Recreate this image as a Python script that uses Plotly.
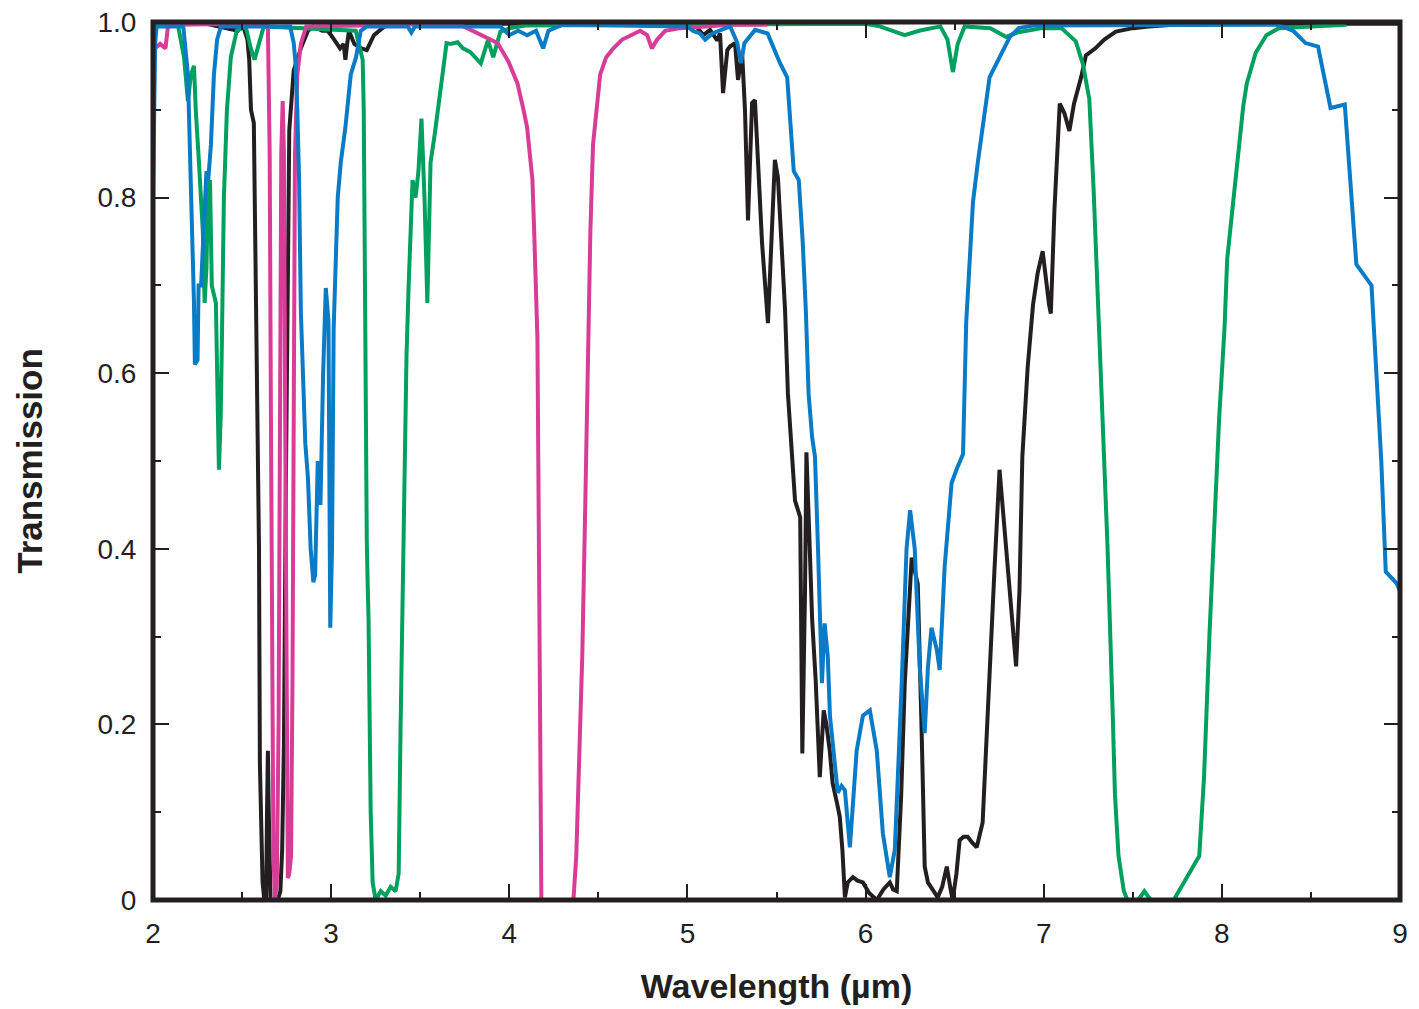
import plotly.graph_objects as go

# ---------------- data (wavelength in µm, transmission 0..1) ----------------
black_x = [2.00, 2.30, 2.476, 2.49, 2.51, 2.53, 2.54, 2.55, 2.566, 2.577, 2.585, 2.595, 2.60, 2.605,
           2.615, 2.625, 2.635, 2.64, 2.645, 2.65, 2.66, 2.70, 2.715, 2.725, 2.735, 2.745, 2.755,
           2.765, 2.79, 2.83, 2.87, 2.90, 2.95, 2.98, 3.00, 3.03, 3.05, 3.07, 3.08, 3.09, 3.10,
           3.13, 3.17, 3.20, 3.24, 3.27, 3.30, 3.40, 4.00, 5.00, 5.05, 5.09, 5.127, 5.144, 5.167,
           5.183, 5.20, 5.224, 5.239, 5.267, 5.284, 5.307, 5.323, 5.34, 5.363, 5.379, 5.396,
           5.419, 5.452, 5.491, 5.508, 5.531, 5.548, 5.564, 5.587, 5.604, 5.633, 5.645, 5.66,
           5.668, 5.685, 5.70, 5.72, 5.743, 5.765, 5.78, 5.799, 5.815, 5.84, 5.855, 5.87, 5.884,
           5.90, 5.929, 5.955, 5.985, 6.02, 6.063, 6.10, 6.136, 6.155, 6.175, 6.20, 6.22, 6.259,
           6.293, 6.315, 6.332, 6.35, 6.377, 6.405, 6.43, 6.456, 6.475, 6.489, 6.51, 6.528, 6.55,
           6.573, 6.60, 6.624, 6.657, 6.685, 6.724, 6.752, 6.78, 6.817, 6.845, 6.864, 6.88, 6.91,
           6.94, 6.966, 6.994, 7.03, 7.04, 7.06, 7.078, 7.09, 7.116, 7.144, 7.17, 7.21, 7.237,
           7.29, 7.34, 7.405, 7.50, 7.59, 7.80, 9.00]
black_y = [0.998, 0.998, 0.99, 0.995, 0.993, 0.98, 0.957, 0.90, 0.885, 0.67, 0.57, 0.40, 0.155, 0.10,
           0.02, 0.0, 0.0, 0.10, 0.17, 0.10, 0.0, 0.0, 0.01, 0.057, 0.18, 0.455, 0.68,
           0.877, 0.945, 0.97, 0.99, 0.995, 0.99, 0.99, 0.985, 0.975, 0.97, 0.975, 0.957, 0.975, 0.99,
           0.975, 0.97, 0.968, 0.985, 0.99, 0.995, 0.998, 0.998, 0.998, 0.995, 0.985, 0.991, 0.985, 0.979,
           0.987, 0.919, 0.968, 0.972, 0.976, 0.934, 0.965, 0.90, 0.774, 0.908, 0.911, 0.843,
           0.748, 0.657, 0.843, 0.823, 0.729, 0.672, 0.577, 0.505, 0.455, 0.436, 0.167, 0.35,
           0.51, 0.41, 0.32, 0.25, 0.14, 0.216, 0.20, 0.17, 0.133, 0.11, 0.095, 0.057, 0.003,
           0.02, 0.026, 0.022, 0.02, 0.008, 0.0, 0.012, 0.02, 0.012, 0.01, 0.12, 0.247, 0.39,
           0.36, 0.19, 0.038, 0.02, 0.011, 0.003, 0.015, 0.038, 0.015, 0.0, 0.03, 0.068, 0.072,
           0.072, 0.065, 0.06, 0.088, 0.22, 0.378, 0.49, 0.424, 0.327, 0.266, 0.353, 0.505, 0.607,
           0.678, 0.714, 0.739, 0.678, 0.668, 0.785, 0.861, 0.907, 0.896, 0.876, 0.907, 0.937, 0.962,
           0.97, 0.98, 0.989, 0.993, 0.995, 0.998, 0.998]

blue_x = [2.00, 2.005, 2.012, 2.02, 2.17, 2.196, 2.213, 2.224, 2.23, 2.235, 2.25, 2.256, 2.27, 2.286,
          2.30, 2.31, 2.325, 2.342, 2.36, 2.381, 2.77, 2.79, 2.80, 2.81, 2.82, 2.83, 2.835, 2.845,
          2.855, 2.87, 2.885, 2.90, 2.91, 2.925, 2.94, 2.955, 2.97, 2.985, 2.995, 3.005, 3.014,
          3.037, 3.054, 3.08, 3.11, 3.14, 3.166, 3.20, 3.43, 3.45, 3.47, 3.95, 4.00, 4.05, 4.10,
          4.15, 4.19, 4.22, 4.30, 5.00, 5.03, 5.07, 5.10, 5.14, 5.24, 5.28, 5.30, 5.32, 5.38,
          5.45, 5.49, 5.52, 5.56, 5.58, 5.597, 5.625, 5.647, 5.665, 5.68, 5.70, 5.716, 5.733,
          5.755, 5.77, 5.788, 5.80, 5.827, 5.844, 5.865, 5.884, 5.912, 5.95, 5.985, 6.024, 6.063,
          6.097, 6.136, 6.164, 6.203, 6.23, 6.25, 6.276, 6.304, 6.332, 6.35, 6.37, 6.40, 6.416,
          6.444, 6.46, 6.483, 6.51, 6.547, 6.565, 6.584, 6.603, 6.63, 6.66, 6.696, 6.733, 6.77,
          6.81, 6.86, 6.94, 8.30, 8.34, 8.40, 8.47, 8.54, 8.61, 8.69, 8.755, 8.84, 8.895, 8.92,
          8.98, 9.00]
blue_y = [0.80, 0.92, 0.975, 0.995, 0.995, 0.94, 0.82, 0.75, 0.68, 0.61, 0.615, 0.70, 0.70, 0.77,
          0.83, 0.82, 0.86, 0.94, 0.98, 0.995, 0.995, 0.976, 0.953, 0.90, 0.82, 0.67, 0.64, 0.58,
          0.52, 0.48, 0.40, 0.362, 0.37, 0.50, 0.45, 0.60, 0.697, 0.66, 0.31, 0.40, 0.65,
          0.80, 0.84, 0.88, 0.94, 0.96, 0.99, 0.995, 0.995, 0.988, 0.995, 0.995, 0.985, 0.99, 0.985,
          0.99, 0.97, 0.99, 0.997, 0.995, 0.99, 0.987, 0.98, 0.987, 0.995, 0.976, 0.953, 0.976, 0.991,
          0.987, 0.968, 0.953, 0.937, 0.88, 0.83, 0.82, 0.75, 0.67, 0.577, 0.527, 0.505, 0.40,
          0.247, 0.315, 0.277, 0.21, 0.152, 0.122, 0.13, 0.125, 0.06, 0.17, 0.21, 0.216, 0.17,
          0.076, 0.026, 0.057, 0.247, 0.40, 0.444, 0.40, 0.265, 0.19, 0.265, 0.31, 0.285, 0.262,
          0.38, 0.418, 0.475, 0.49, 0.508, 0.658, 0.729, 0.795, 0.84, 0.886, 0.937, 0.952, 0.968,
          0.983, 0.993, 0.996, 0.997, 0.995, 0.99, 0.976, 0.972, 0.902, 0.906, 0.724, 0.70, 0.50, 0.374,
          0.361, 0.352]

green_x = [2.00, 2.14, 2.146, 2.174, 2.196, 2.213, 2.23, 2.24, 2.258, 2.269, 2.28, 2.29, 2.30, 2.308,
           2.32, 2.33, 2.353, 2.37, 2.38, 2.387, 2.398, 2.415, 2.437, 2.47, 2.52, 2.549, 2.57,
           2.594, 2.622, 3.138, 3.177, 3.183, 3.188, 3.194, 3.20, 3.205, 3.21, 3.222, 3.233, 3.25,
           3.278, 3.306, 3.334, 3.362, 3.379, 3.39, 3.407, 3.423, 3.435, 3.446, 3.457, 3.474, 3.49,
           3.507, 3.524, 3.54, 3.558, 3.58, 3.603, 3.625, 3.648, 3.67, 3.71, 3.74, 3.78, 3.84,
           3.88, 3.91, 3.95, 4.006, 4.09, 6.00, 6.08, 6.22, 6.30, 6.42, 6.46, 6.49, 6.517, 6.556,
           6.70, 6.79, 6.85, 6.99, 7.10, 7.18, 7.22, 7.256, 7.28, 7.30, 7.32, 7.34, 7.358, 7.386,
           7.40, 7.42, 7.45, 7.47, 7.53, 7.565, 7.60, 7.73, 7.79, 7.83, 7.873, 7.90, 7.93, 7.96,
           7.985, 8.00, 8.015, 8.03, 8.06, 8.09, 8.12, 8.14, 8.19, 8.25, 8.32, 8.50, 8.70]
green_y = [0.998, 0.997, 0.99, 0.96, 0.91, 0.94, 0.95, 0.90, 0.84, 0.80, 0.76, 0.68, 0.72, 0.80,
           0.82, 0.70, 0.68, 0.49, 0.55, 0.64, 0.80, 0.90, 0.96, 0.99, 0.995, 0.97, 0.957,
           0.975, 0.995, 0.99, 0.957, 0.90, 0.70, 0.60, 0.41, 0.36, 0.32, 0.10, 0.02, 0.0,
           0.01, 0.005, 0.015, 0.01, 0.03, 0.20, 0.45, 0.62, 0.70, 0.76, 0.82, 0.80, 0.83,
           0.89, 0.80, 0.68, 0.84, 0.87, 0.91, 0.94, 0.976, 0.975, 0.977, 0.97, 0.966, 0.953,
           0.979, 0.96, 0.989, 0.993, 0.996, 0.998, 0.995, 0.985, 0.99, 0.995, 0.98, 0.943, 0.975, 0.995,
           0.993, 0.983, 0.988, 0.993, 0.993, 0.978, 0.952, 0.912, 0.81, 0.708, 0.607, 0.506, 0.403, 0.221,
           0.12, 0.05, 0.01, 0.0, 0.0, 0.01, 0.0, 0.0, 0.02, 0.035, 0.05, 0.14, 0.30, 0.45,
           0.55, 0.60, 0.652, 0.73, 0.79, 0.85, 0.904, 0.93, 0.965, 0.985, 0.993, 0.995, 0.997]

magenta_x = [2.00, 2.01, 2.04, 2.07, 2.085, 2.63, 2.645, 2.655, 2.662, 2.668, 2.676, 2.685, 2.695,
             2.705, 2.712, 2.72, 2.728, 2.735, 2.742, 2.75, 2.757, 2.765, 2.775, 2.783, 2.79,
             2.797, 2.81, 2.83, 2.86, 3.70, 3.743, 3.838, 3.934, 3.995, 4.046, 4.08, 4.10, 4.12,
             4.13, 4.14, 4.147, 4.158, 4.163, 4.17, 4.175, 4.18, 4.36, 4.376, 4.393, 4.41, 4.427,
             4.443, 4.455, 4.47, 4.494, 4.51, 4.544, 4.584, 4.634, 4.68, 4.735, 4.774, 4.80, 4.83,
             4.875, 4.96, 5.07, 5.24, 5.447]
magenta_y = [0.995, 0.97, 0.975, 0.97, 0.997, 0.998, 0.995, 0.85, 0.55, 0.25, 0.05, 0.0, 0.02,
             0.20, 0.55, 0.85, 0.91, 0.85, 0.55, 0.20, 0.025, 0.03, 0.05, 0.25, 0.60,
             0.85, 0.94, 0.975, 0.995, 0.998, 0.995, 0.985, 0.976, 0.955, 0.93, 0.90, 0.88, 0.84,
             0.82, 0.76, 0.71, 0.64, 0.50, 0.35, 0.15, 0.0, 0.0, 0.05, 0.15, 0.28, 0.455,
             0.64, 0.76, 0.86, 0.91, 0.94, 0.96, 0.97, 0.98, 0.985, 0.99, 0.985, 0.97, 0.98,
             0.99, 0.993, 0.995, 0.997, 0.997]

x_ticks = [2, 3, 4, 5, 6, 7, 8, 9]
y_ticks = [0, 0.2, 0.4, 0.6, 0.8, 1.0]
y_ticktext = ["0", "0.2", "0.4", "0.6", "0.8", "1.0"]

INK = "#231f20"
series = [
    (black_x, black_y, INK),
    (green_x, green_y, "#00a05e"),
    (magenta_x, magenta_y, "#d93c96"),
    (blue_x, blue_y, "#0a7bc6"),
]

fig = go.Figure()
for xs, ys, col in series:
    fig.add_trace(go.Scatter(x=xs, y=ys, mode="lines",
                             line=dict(color=col, width=4),
                             showlegend=False, hoverinfo="skip"))

FONT = "Liberation Sans, Arial, Helvetica, sans-serif"
axis_common = dict(
    showgrid=False, zeroline=False,
    showline=True, linewidth=1, linecolor=INK, mirror="allticks",
    ticks="inside", ticklen=16, tickwidth=1.5, tickcolor=INK,
    tickfont=dict(family=FONT, size=28, color=INK),
    ticklabeloverflow="allow",
)
fig.update_xaxes(range=[2, 9], tickmode="array", tickvals=x_ticks,
                 minor=dict(tick0=2, dtick=0.5, ticks="inside", ticklen=8, tickwidth=1.5, tickcolor=INK),
                 title=dict(text="Wavelength (µm)", standoff=26,
                            font=dict(family=FONT, size=34, color=INK, weight="bold")),
                 ticklabelstandoff=8,
                 **axis_common)
fig.update_yaxes(range=[0, 1], tickmode="array", tickvals=y_ticks, ticktext=y_ticktext,
                 minor=dict(tick0=0, dtick=0.1, ticks="inside", ticklen=8, tickwidth=1.5, tickcolor=INK),
                 title=dict(text="Transmission", standoff=44,
                            font=dict(family=FONT, size=35, color=INK, weight="bold")),
                 ticklabelstandoff=10,
                 **axis_common)

# heavy frame drawn over the traces
fig.add_shape(type="rect", xref="paper", yref="paper", x0=0, y0=0, x1=1, y1=1,
              line=dict(color=INK, width=5), layer="above")

# the page body adds an 8 px offset, so the figure is sized/margined to compensate
fig.update_layout(
    width=1411, height=1001,
    margin=dict(l=145, r=19, t=14, b=109, autoexpand=False),
    plot_bgcolor="white", paper_bgcolor="white",
    font=dict(family=FONT, color=INK),
)

fig.write_html("out.html")
